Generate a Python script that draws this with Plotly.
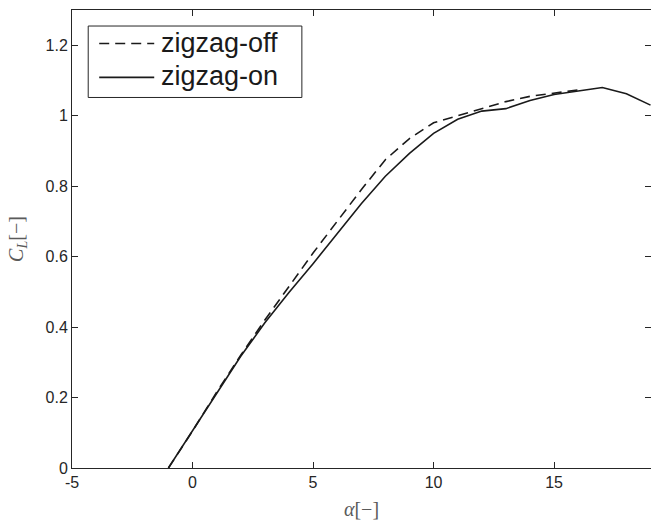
import plotly.graph_objects as go

alpha_on = [-1, 0, 1, 2, 3, 4, 5, 6, 7, 8, 9, 10, 11, 12, 13, 14, 15, 16, 17, 18, 19]
cl_on = [0.0, 0.105, 0.213, 0.317, 0.412, 0.498, 0.58, 0.665, 0.75, 0.828, 0.893, 0.95, 0.99, 1.013,
         1.02, 1.043, 1.06, 1.07, 1.08, 1.062, 1.03]

alpha_off = [-1, 0, 1, 2, 3, 4, 5, 6, 7, 8, 9, 10, 11, 12, 13, 14, 15, 16]
cl_off = [0.0, 0.105, 0.215, 0.32, 0.42, 0.515, 0.61, 0.70, 0.79, 0.875, 0.935, 0.98, 1.0,
          1.02, 1.04, 1.055, 1.065, 1.073]

x_tickvals = [-5, 0, 5, 10, 15]
x_ticktext = ["-5", "0", "5", "10", "15"]
y_tickvals = [0, 0.2, 0.4, 0.6, 0.8, 1.0, 1.2]
y_ticktext = ["0", "0.2", "0.4", "0.6", "0.8", "1", "1.2"]

legend_names = ["zigzag-off", "zigzag-on"]
line_col = "#1a1a1a"
axis_col = "#262626"

fig = go.Figure()
fig.add_trace(go.Scatter(x=alpha_off, y=cl_off, mode="lines", name=legend_names[0],
                         line=dict(color=line_col, width=1.6, dash="10px,6px"), showlegend=False))
fig.add_trace(go.Scatter(x=alpha_on, y=cl_on, mode="lines", name=legend_names[1],
                         line=dict(color=line_col, width=1.6), showlegend=False))

# custom legend (box, samples, labels) in paper coordinates
fig.add_shape(type="rect", xref="paper", yref="paper", x0=0.028, x1=0.397, y0=0.809, y1=0.965,
              line=dict(color=axis_col, width=1), fillcolor="white", layer="above")
rows_y = [0.927, 0.853]
dashes = ["10px,6px", "solid"]
for name, yy, d in zip(legend_names, rows_y, dashes):
    fig.add_shape(type="line", xref="paper", yref="paper", x0=0.047, x1=0.142, y0=yy, y1=yy,
                  line=dict(color=line_col, width=1.6, dash=d), layer="above")
    fig.add_annotation(x=0.150, y=yy + 0.002, xref="paper", yref="paper", text=name,
                       showarrow=False, xanchor="left", yanchor="middle",
                       font=dict(family="Liberation Sans, Arial, sans-serif", size=27, color=line_col))

tick_font = dict(family="Liberation Sans, Arial, sans-serif", size=16, color=axis_col)
fig.update_xaxes(range=[-5, 19.02], tickvals=x_tickvals, ticktext=x_ticktext,
                 ticks="inside", ticklen=6, tickcolor=axis_col, tickwidth=1,
                 showline=True, linecolor=axis_col, linewidth=1, mirror="ticks",
                 showgrid=False, zeroline=False, tickfont=tick_font,
                 title=dict(text="<i>α</i>[−]", standoff=11,
                            font=dict(family="Liberation Serif, DejaVu Serif, serif", size=20, color="#5a5a5a")))
fig.update_yaxes(range=[0, 1.3], tickvals=y_tickvals, ticktext=y_ticktext,
                 ticks="inside", ticklen=6, tickcolor=axis_col, tickwidth=1,
                 showline=True, linecolor=axis_col, linewidth=1, mirror="ticks",
                 showgrid=False, zeroline=False, tickfont=tick_font,
                 title=dict(text="<i>C<sub>L</sub></i>[−]", standoff=16,
                            font=dict(family="Liberation Serif, DejaVu Serif, serif", size=20, color="#5a5a5a")))

fig.update_layout(width=651, height=522, margin=dict(l=72, r=0, t=10, b=54),
                  plot_bgcolor="white", paper_bgcolor="white", showlegend=False)

fig.write_html("out.html")
